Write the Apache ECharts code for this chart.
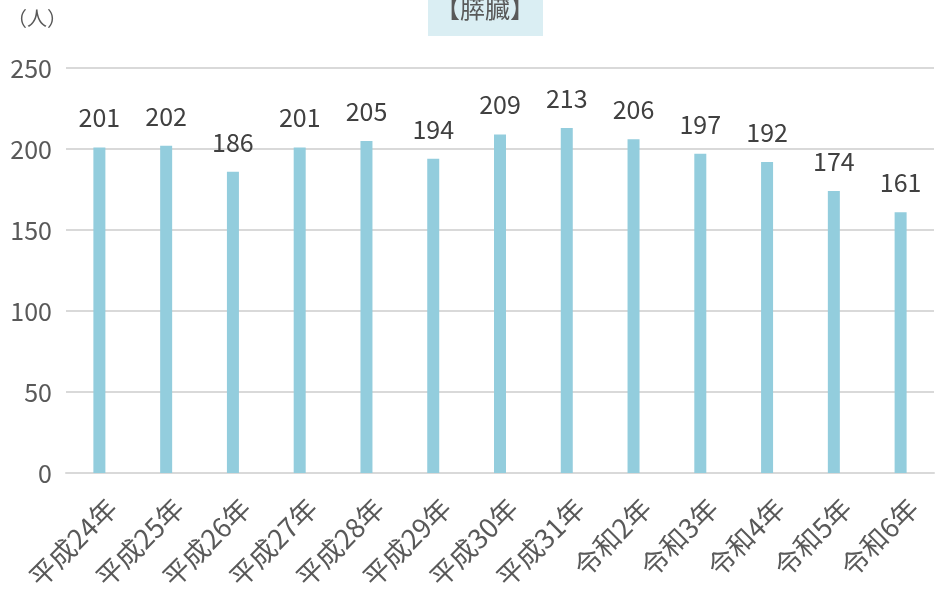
<!DOCTYPE html>
<html><head><meta charset="utf-8">
<script src="https://cdn.jsdelivr.net/npm/echarts@6/dist/echarts.min.js"></script>
<style>html,body{margin:0;padding:0;background:#fff}#c{width:943px;height:595px}</style>
</head><body><div id="c"></div>
<script>
const categories = ['平成24年','平成25年','平成26年','平成27年','平成28年','平成29年','平成30年','平成31年','令和2年','令和3年','令和4年','令和5年','令和6年'];
const values = [201,202,186,201,205,194,209,213,206,197,192,174,161];
const yTicks = {min:0, max:250, interval:50};
const titleText = '【膵臓】';
const unitText = '（人）';
const font = '"Noto Sans CJK JP", "Noto Sans", sans-serif';
const chart = echarts.init(document.getElementById('c'));
chart.setOption({
  animation:false,
  backgroundColor:'#fff',
  graphic:[
    {type:'rect',shape:{x:428,y:0,width:115,height:36},style:{fill:'#DAEEF3'},silent:true},
    {type:'text',x:485,y:8,style:{text:titleText,align:'center',verticalAlign:'middle',fontFamily:font,fontSize:25,fill:'#595959'}},
    {type:'text',x:7,y:8,style:{text:unitText,fontFamily:font,fontSize:20,fill:'#595959'}}
  ],
  grid:{left:66,right:9,top:68,bottom:122,containLabel:false,outerBoundsMode:'none'},
  xAxis:{type:'category',data:categories,
    axisLine:{lineStyle:{color:'#D9D9D9',width:2}},axisTick:{show:false},
    axisLabel:{rotate:45,interval:0,margin:43,padding:[0,-18,0,0],fontFamily:font,fontSize:27,color:'#595959'}},
  yAxis:{type:'value',min:yTicks.min,max:yTicks.max,interval:yTicks.interval,
    axisLine:{show:false},axisTick:{show:false},
    splitLine:{lineStyle:{color:'#D9D9D9',width:2}},
    axisLabel:{margin:14,fontFamily:font,fontSize:25,color:'#595959'}},
  series:[{type:'bar',data:values,barWidth:12,itemStyle:{color:'#93CDDD'},
    label:{show:true,position:'top',distance:17,fontFamily:font,fontSize:25,color:'#404040'}}]
});
</script></body></html>
